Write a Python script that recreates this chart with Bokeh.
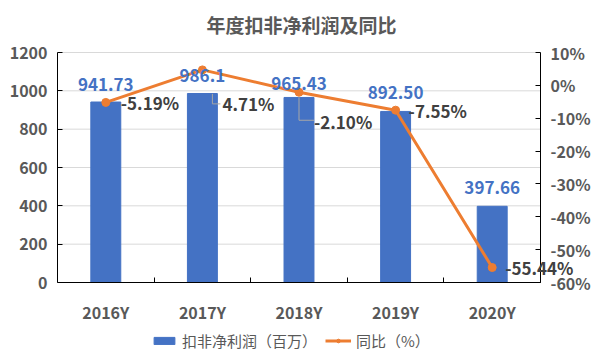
from bokeh.plotting import figure
from bokeh.models import (Range1d, LinearAxis, FixedTicker, ColumnDataSource, LabelSet, Label,
                          Legend, LegendItem)
from bokeh.core.properties import value
from bokeh.embed import file_html
from bokeh.resources import INLINE

title_text = "年度扣非净利润及同比"
years = ["2016Y", "2017Y", "2018Y", "2019Y", "2020Y"]
profit = [941.73, 986.1, 965.43, 892.50, 397.66]
profit_labels = ["941.73", "986.1", "965.43", "892.50", "397.66"]
yoy = [-5.19, 4.71, -2.10, -7.55, -55.44]
yoy_labels = ["-5.19%", "4.71%", "-2.10%", "-7.55%", "-55.44%"]
left_ticks = [0, 200, 400, 600, 800, 1000, 1200]
right_ticks = [-60, -50, -40, -30, -20, -10, 0, 10]

FONT = "Noto Sans CJK SC"
GRAY = "#595959"
BLUE = "#4472C4"
ORANGE = "#ED7D31"

W, H = 601, 360
# visual plot box (pixels on the canvas)
BOX_L, BOX_R, BOX_T, BOX_B = 57, 540, 52, 282
TITLE_X, TITLE_Y = 301, 23.5
n = len(years)
xs = [i + 0.5 for i in range(n)]
L_MIN, L_MAX = left_ticks[0], left_ticks[-1]
R_MIN, R_MAX = right_ticks[0], right_ticks[-1]

px_per_cat = (BOX_R - BOX_L) / n
px_per_unit = (BOX_B - BOX_T) / (L_MAX - L_MIN)
px_per_pct = (BOX_B - BOX_T) / (R_MAX - R_MIN)

# frame extends to the right, top and bottom edges so labels / legend / title are not clipped
x_end = (W - BOX_L) / px_per_cat
y_start = L_MIN - (H - BOX_B) / px_per_unit
y_end = L_MAX + BOX_T / px_per_unit
r_start = R_MIN - (H - BOX_B) / px_per_pct
r_end = R_MAX + BOX_T / px_per_pct

p = figure(width=W, height=H, output_backend="svg", toolbar_location=None,
           x_range=Range1d(0, x_end), y_range=Range1d(y_start, y_end),
           min_border_left=BOX_L, min_border_right=0, min_border_top=0, min_border_bottom=0)
p.extra_y_ranges = {"pct": Range1d(r_start, r_end)}
p.outline_line_color = None
p.background_fill_color = "white"

# title as a label
p.add_layout(Label(x=(TITLE_X - BOX_L) / px_per_cat, y=L_MAX + (BOX_T - TITLE_Y) / px_per_unit,
                   text=title_text, text_align="center", text_baseline="middle",
                   text_font=FONT, text_font_size="19px", text_font_style="bold",
                   text_color=GRAY))

# x axis at y = 0
p.xaxis.fixed_location = 0
p.xaxis.bounds = (0, n)
p.xaxis.ticker = FixedTicker(ticks=xs, minor_ticks=list(range(n + 1)))
p.xaxis.major_label_overrides = {x: y for x, y in zip(xs, years)}
p.xaxis.major_tick_line_color = None
p.xaxis.minor_tick_in = 5
p.xaxis.minor_tick_out = 0
p.xaxis.minor_tick_line_color = "black"

# left axis
p.yaxis.bounds = (L_MIN, L_MAX)
p.yaxis.ticker = FixedTicker(ticks=left_ticks)
p.yaxis.major_tick_in = 5
p.yaxis.major_tick_out = 0
p.yaxis.minor_tick_line_color = None

# right axis at x = n
ra = LinearAxis(y_range_name="pct", ticker=FixedTicker(ticks=right_ticks),
                major_label_overrides={t: f"{t}%" for t in right_ticks},
                fixed_location=n, bounds=(R_MIN, R_MAX))
ra.major_tick_in = 5
ra.major_tick_out = 0
ra.minor_tick_line_color = None
p.add_layout(ra, "right")

for ax in [p.xaxis[0], p.yaxis[0], ra]:
    ax.major_label_text_font = FONT
    ax.major_label_text_font_size = "16px"
    ax.major_label_text_font_style = "bold"
    ax.major_label_text_color = GRAY
    ax.axis_line_color = "black"
    ax.major_label_standoff = 10
p.xaxis.major_label_standoff = 11

p.xgrid.grid_line_color = None
p.ygrid.grid_line_color = None

# horizontal grid lines between the two axes
gt = left_ticks[1:]
p.segment(x0=[0] * len(gt), x1=[n] * len(gt), y0=gt, y1=gt, line_color="#D9D9D9", line_width=1)

src = ColumnDataSource(dict(x=xs, profit=profit, plab=profit_labels, yoy=yoy, ylab=yoy_labels))

bars = p.vbar(x="x", top="profit", width=0.31, source=src, color=BLUE)
ln = p.line(x="x", y="yoy", source=src, y_range_name="pct", color=ORANGE, line_width=3)
pts = p.scatter(x="x", y="yoy", source=src, y_range_name="pct", color=ORANGE, size=8)

# leader lines (gray) for displaced labels
lead = [(1, 10, 24, 34, 18), (2, 0, 5, 28, 15)]
for i, dx, dy0, dy1, dx2 in lead:
    x0 = xs[i] + dx / px_per_cat
    y0 = yoy[i] - dy0 / px_per_pct
    y1 = yoy[i] - dy1 / px_per_pct
    x2 = xs[i] + dx2 / px_per_cat
    p.line([x0, x0, x2], [y0, y1, y1], y_range_name="pct", color="#A6A6A6", line_width=1)

# bar value labels
pyoff = [18, 18, 14, 19, 19]
for i in range(n):
    lab = LabelSet(x="x", y="profit", text="plab",
                   source=ColumnDataSource(dict(x=[xs[i]], profit=[profit[i]], plab=[profit_labels[i]])),
                   y_offset=pyoff[i], text_align="center", text_baseline="middle",
                   text_font=value(FONT), text_font_size="17px", text_font_style="bold",
                   text_color=BLUE)
    p.add_layout(lab)

# line value labels
lxoff = [15, 20, 15, 13, 13]
lyoff = [0, -34, -29, 0, 0]
for i in range(n):
    lab = LabelSet(x="x", y="yoy", text="ylab", y_range_name="pct",
                   source=ColumnDataSource(dict(x=[xs[i]], yoy=[yoy[i]], ylab=[yoy_labels[i]])),
                   x_offset=lxoff[i], y_offset=lyoff[i], text_align="left", text_baseline="middle",
                   text_font=value(FONT), text_font_size="17px", text_font_style="bold",
                   text_color="#404040")
    p.add_layout(lab)

legend = Legend(items=[LegendItem(label="扣非净利润（百万）", renderers=[bars]),
                       LegendItem(label="同比（%）", renderers=[ln, pts])],
                orientation="horizontal", location=(94, 9),
                label_text_font=FONT, label_text_font_size="15px", label_text_color=GRAY,
                glyph_width=26, glyph_height=9, border_line_color=None,
                background_fill_alpha=0, spacing=8, label_standoff=5, padding=2, margin=0)
p.add_layout(legend, "center")

open("out.html", "w").write(file_html(p, INLINE))
